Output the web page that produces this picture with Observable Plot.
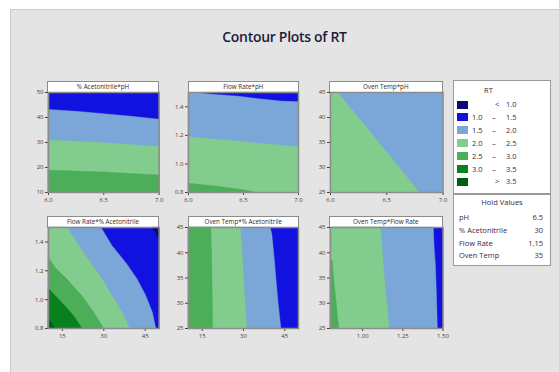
<!DOCTYPE html>
<html><head><meta charset="utf-8">
<script src="https://cdn.jsdelivr.net/npm/d3@7"></script>
<script src="https://cdn.jsdelivr.net/npm/@observablehq/plot@0.6"></script>
<style>
html,body{margin:0;padding:0;background:#fff;}
body{width:559px;height:372px;overflow:hidden;position:relative;font-family:"Open Sans","Noto Sans",sans-serif;}
#bg{position:absolute;left:10px;top:9px;width:549px;height:363px;background:#e4e4e4;border-left:1px solid #cbcbcb;border-top:1px solid #cbcbcb;box-sizing:border-box;}
#title{position:absolute;left:10px;width:549px;top:27px;text-align:center;font-size:14px;font-weight:600;color:#1c1c3a;letter-spacing:-0.3px;}
.hdr{position:absolute;background:#fff;border:1.5px solid #8c8c8c;box-sizing:border-box;font-size:6.3px;color:#3a2a2a;text-align:center;line-height:8px;white-space:nowrap;overflow:hidden;}
.panel{position:absolute;}
.box{position:absolute;background:#fff;border:1.5px solid #9a9a9a;box-sizing:border-box;}
.lt{position:absolute;font-size:7.5px;color:#3a2a3a;line-height:9px;white-space:nowrap;}
.sw{position:absolute;width:11px;height:8px;}
</style></head><body>
<div id="bg"></div>
<div id="title">Contour Plots of RT</div>
<script>
// ---- data ----
const bands = ["< 1.0", "1.0 – 1.5", "1.5 – 2.0", "2.0 – 2.5", "2.5 – 3.0", "3.0 – 3.5", "> 3.5"];
const bandLow = ["", "1.0", "1.5", "2.0", "2.5", "3.0", ""];
const bandHigh = ["1.0", "1.5", "2.0", "2.5", "3.0", "3.5", "3.5"];
const bandSign = ["<", "–", "–", "–", "–", "–", ">"];
const bandColors = ["#0b0b78", "#1212e0", "#7ba6d8", "#82cd8d", "#4cae59", "#07801e", "#005e10"];

const holdFactors = ["pH", "% Acetonitrile", "Flow Rate", "Oven Temp"];
const holdValues = ["6.5", "30", "1.15", "35"];

const panelTitles = ["% Acetonitrile*pH", "Flow Rate*pH", "Oven Temp*pH",
  "Flow Rate*% Acetonitrile", "Oven Temp*% Acetonitrile", "Oven Temp*Flow Rate"];
const xDomains = [[6, 7], [6, 7], [6, 7], [10, 50], [10, 50], [0.8, 1.5]];
const yDomains = [[10, 50], [0.8, 1.5], [25, 45], [0.8, 1.5], [25, 45], [25, 45]];
const xTicks = [[6, 6.5, 7], [6, 6.5, 7], [6, 6.5, 7], [15, 30, 45], [15, 30, 45], [1, 1.25, 1.5]];
const yTicks = [[10, 20, 30, 40, 50], [0.8, 1, 1.2, 1.4], [25, 30, 35, 40, 45],
  [0.8, 1, 1.2, 1.4], [25, 30, 35, 40, 45], [25, 30, 35, 40, 45]];
const xFormats = [".1f", ".1f", ".1f", "d", "d", ".2f"];
const yFormats = ["d", ".1f", "d", ".1f", "d", "d"];

// contour regions per panel: band index, contour line, closing corners of the frame
const regions1 = [
  {band: 1, line: [], close: ["tl", "tr", "br", "bl"]},
  {band: 2, line: [[6.0, 43.2], [6.25, 42.5], [6.5, 41.5], [6.75, 40.5], [7.0, 39.3]], close: ["br", "bl"]},
  {band: 3, line: [[6.0, 31.0], [6.5, 29.9], [7.0, 28.4]], close: ["br", "bl"]},
  {band: 4, line: [[6.0, 19.0], [6.5, 18.2], [7.0, 17.0]], close: ["br", "bl"]}
];
const regions2 = [
  {band: 2, line: [], close: ["tl", "tr", "br", "bl"]},
  {band: 1, line: [[6.1, 1.5], [6.2, 1.492], [6.45, 1.477], [6.65, 1.458], [6.85, 1.442], [7.0, 1.439]], close: ["tr"]},
  {band: 3, line: [[6.0, 1.19], [6.5, 1.155], [7.0, 1.12]], close: ["br", "bl"]},
  {band: 4, line: [[6.0, 0.865], [6.25, 0.845], [6.5, 0.82], [6.62, 0.8]], close: ["bl"]}
];
const regions3 = [
  {band: 2, line: [], close: ["tl", "tr", "br", "bl"]},
  {band: 3, line: [[6.065, 45], [6.43, 35], [6.79, 25]], close: ["bl", "tl"]}
];
const regions4 = [
  {band: 1, line: [], close: ["tl", "tr", "br", "bl"]},
  {band: 0, line: [[47.3, 1.5], [48.8, 1.46], [50, 1.415]], close: ["tr"]},
  {band: 2, line: [[29.0, 1.5], [33.0, 1.373], [37.9, 1.258], [42.1, 1.142], [45.2, 1.027], [47.6, 0.911], [48.8, 0.8]], close: ["bl", "tl"]},
  {band: 3, line: [[16.7, 1.5], [21.0, 1.373], [25.2, 1.258], [29.4, 1.142], [33.0, 1.027], [36.7, 0.911], [39.3, 0.8]], close: ["bl", "tl"]},
  {band: 4, line: [[10, 1.292], [12.4, 1.223], [16.7, 1.142], [22.1, 1.027], [26.4, 0.911], [30.0, 0.8]], close: ["bl"]},
  {band: 5, line: [[10, 1.077], [14.8, 0.98], [19.1, 0.888], [22.1, 0.8]], close: ["bl"]},
  {band: 6, line: [[10, 0.876], [11.0, 0.84], [12.4, 0.8]], close: ["bl"]}
];
const regions5 = [
  {band: 1, line: [], close: ["tl", "tr", "br", "bl"]},
  {band: 2, line: [[39.7, 45], [40.3, 43.7], [41.2, 38.7], [41.9, 34.1], [42.7, 29.5], [43.6, 25]], close: ["bl", "tl"]},
  {band: 3, line: [[28.8, 45], [29.4, 41.0], [30.0, 35.0], [30.8, 28.5], [31.2, 25]], close: ["bl", "tl"]},
  {band: 4, line: [[18.1, 45], [18.4, 40.0], [18.8, 25]], close: ["bl", "tl"]}
];
const regions6 = [
  {band: 1, line: [], close: ["tl", "tr", "br", "bl"]},
  {band: 2, line: [[1.440, 45], [1.445, 41], [1.452, 38], [1.458, 33], [1.465, 25]], close: ["bl", "tl"]},
  {band: 3, line: [[1.112, 45], [1.12, 41], [1.135, 35], [1.15, 30], [1.164, 25]], close: ["bl", "tl"]},
  {band: 4, line: [[0.8, 38.6], [0.812, 38.4], [0.822, 34], [0.833, 31], [0.845, 27], [0.852, 25]], close: ["bl"]}
];
const allRegions = [regions1, regions2, regions3, regions4, regions5, regions6];

// ---- layout ----
const colLeft = [47.7, 188.3, 329.5];
const colWidth = [110.6, 110, 112.5];
const rowTop = [92, 227];
const rowHeight = [100, 101];
const hdrH = 11;
const mL = 22, mR = 6, mT = 2, mB = 16;

function polygons(regs, xd, yd) {
  const corner = {tl: [xd[0], yd[1]], tr: [xd[1], yd[1]], br: [xd[1], yd[0]], bl: [xd[0], yd[0]]};
  const out = [];
  regs.forEach((r, i) => {
    [...r.line, ...r.close.map(c => corner[c])].forEach(([x, y]) =>
      out.push({id: i, band: bands[r.band], x, y}));
  });
  return out;
}

for (let p = 0; p < 6; p++) {
  const row = Math.floor(p / 3), col = p % 3;
  const w = colWidth[col], h = rowHeight[row];
  const left = colLeft[col], top = rowTop[row];

  const hdr = document.createElement("div");
  hdr.className = "hdr";
  hdr.style.left = (left - 0.5) + "px";
  hdr.style.top = (top - hdrH) + "px";
  hdr.style.width = (w + 1) + "px";
  hdr.style.height = (hdrH + 1) + "px";
  hdr.style.lineHeight = (hdrH - 2) + "px";
  hdr.textContent = panelTitles[p];
  document.body.appendChild(hdr);

  const chart = Plot.plot({
    width: w + mL + mR,
    height: h + mT + mB,
    marginLeft: mL, marginRight: mR, marginTop: mT, marginBottom: mB,
    style: {background: "transparent", fontSize: "6px", color: "#4a3a3a", fontFamily: "'Open Sans', sans-serif", overflow: "visible"},
    x: {domain: xDomains[p], ticks: xTicks[p], tickFormat: d3.format(xFormats[p]), tickSize: 3, tickPadding: 2, label: null},
    y: {domain: yDomains[p], ticks: yTicks[p], tickFormat: d3.format(yFormats[p]), tickSize: 3, tickPadding: 2, label: null},
    color: {type: "ordinal", domain: bands, range: bandColors},
    marks: [
      Plot.line(polygons(allRegions[p], xDomains[p], yDomains[p]), {x: "x", y: "y", z: "id", fill: "band", stroke: "band", strokeWidth: 0.4, curve: "linear-closed"}),
      Plot.frame({stroke: "#8c8c8c", strokeWidth: 1.5})
    ]
  });
  const holder = document.createElement("div");
  holder.className = "panel";
  holder.style.left = (left - mL) + "px";
  holder.style.top = (top - mT) + "px";
  holder.appendChild(chart);
  document.body.appendChild(holder);
}

// ---- legend ----
function addDiv(cls, styles, text) {
  const d = document.createElement("div");
  d.className = cls;
  Object.assign(d.style, styles);
  if (text != null) d.textContent = text;
  document.body.appendChild(d);
  return d;
}
addDiv("box", {left: "453px", top: "80px", width: "98px", height: "114px"});
addDiv("lt", {left: "484px", top: "86px"}, "RT");
bands.forEach((b, i) => {
  const cy = 104.5 + i * 12.9;
  addDiv("sw", {left: "457px", top: (cy - 4) + "px", background: bandColors[i]});
  if (bandLow[i]) addDiv("lt", {left: "472px", top: (cy - 4.5) + "px"}, bandLow[i]);
  addDiv("lt", {left: (bandSign[i] === "–" ? 492 : 495) + "px", top: (cy - 4.5) + "px"}, bandSign[i]);
  addDiv("lt", {left: "506px", top: (cy - 4.5) + "px"}, bandHigh[i]);
});
addDiv("box", {left: "453px", top: "194px", width: "98px", height: "72px"});
addDiv("lt", {left: "453px", width: "98px", textAlign: "center", top: "198px"}, "Hold Values");
holdFactors.forEach((f, i) => {
  const cy = 217.5 + i * 12.8;
  addDiv("lt", {left: "459px", top: (cy - 4.5) + "px"}, f);
  addDiv("lt", {left: "500px", width: "43px", textAlign: "right", top: (cy - 4.5) + "px"}, holdValues[i]);
});
</script>
</body></html>
